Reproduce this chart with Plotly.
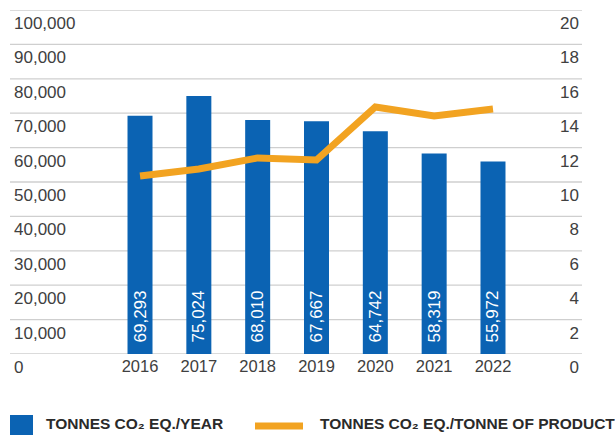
import plotly.graph_objects as go

years = ["2016", "2017", "2018", "2019", "2020", "2021", "2022"]
tonnes_per_year = [69293, 75024, 68010, 67667, 64742, 58319, 55972]
tonnes_per_product = [10.35, 10.76, 11.40, 11.28, 14.36, 13.84, 14.24]
left_ticks = [0, 10000, 20000, 30000, 40000, 50000, 60000, 70000, 80000, 90000, 100000]
right_ticks = [0, 2, 4, 6, 8, 10, 12, 14, 16, 18, 20]
legend_bar = "TONNES CO\u2082 EQ./YEAR"
legend_line = "TONNES CO\u2082 EQ./TONNE OF PRODUCT"

BLUE = "#0b63b3"
ORANGE = "#f2a321"
TXT = "#404040"
GRID = "#cfcfcf"
FONT = "Liberation Sans, Arial, sans-serif"

fig = go.Figure()
fig.add_trace(go.Bar(
    x=years, y=tonnes_per_year, width=0.425,
    marker=dict(color=BLUE, line=dict(width=0)),
    text=["\u2002" + f"{v:,}" for v in tonnes_per_year],
    textposition="inside", insidetextanchor="start", textangle=-90,
    constraintext="none",
    textfont=dict(color="white", size=17, family=FONT),
    showlegend=False, hoverinfo="skip",
))
fig.add_trace(go.Scatter(
    x=years, y=tonnes_per_product, yaxis="y2", mode="lines",
    line=dict(color=ORANGE, width=7),
    showlegend=False, hoverinfo="skip",
))

fig.update_layout(
    width=615, height=435,
    margin=dict(l=10, r=33, t=10, b=81),
    paper_bgcolor="white", plot_bgcolor="white",
    font=dict(family=FONT, color=TXT, size=16),
    xaxis=dict(
        type="category", range=[-2.21, 7.513],
        showgrid=False, zeroline=False, showline=False, ticks="",
        tickfont=dict(size=16.5, color=TXT),
    ),
    yaxis=dict(
        range=[0, 100000], tickvals=left_ticks,
        ticktext=[f"{v:,}" for v in left_ticks],
        showgrid=False, zeroline=False,
        ticklabelposition="inside", ticklabelshift=13, ticklabelstandoff=1,
        ticklabeloverflow="allow",
        tickfont=dict(size=17, color=TXT),
        showline=False, ticks="",
    ),
    yaxis2=dict(
        overlaying="y", side="right", range=[0, 20], tickvals=right_ticks,
        showgrid=False, zeroline=False, showline=False, ticks="",
        ticklabelposition="inside", ticklabelshift=13, ticklabelstandoff=0,
        ticklabeloverflow="allow",
        tickfont=dict(size=17, color=TXT),
    ),
)

# horizontal gridlines at the left-axis tick values
for v in left_ticks:
    fig.add_shape(type="line", xref="paper", yref="y", x0=0, x1=1, y0=v, y1=v,
                  layer="below", line=dict(color=GRID, width=1.3))

# manual legend
fig.add_shape(type="rect", xref="paper", yref="paper",
              x0=0, x1=23/572, y0=-(415-354)/344, y1=-(435-354)/344,
              fillcolor=BLUE, line=dict(width=0))
fig.add_shape(type="line", xref="paper", yref="paper",
              x0=(255-10)/572, x1=(303-10)/572,
              y0=-(426-354)/344, y1=-(426-354)/344,
              line=dict(color=ORANGE, width=7))
fig.add_annotation(text=legend_bar, xref="paper", yref="paper",
                   x=(44-10)/572, y=-(434-354)/344, xanchor="left", yanchor="bottom",
                   showarrow=False, font=dict(size=15.5, color="#2a2a2a", family=FONT, weight="bold"))
fig.add_annotation(text=legend_line, xref="paper", yref="paper",
                   x=(318-10)/572, y=-(434-354)/344, xanchor="left", yanchor="bottom",
                   showarrow=False, font=dict(size=15.5, color="#2a2a2a", family=FONT, weight="bold"))

fig.write_html("out.html")
